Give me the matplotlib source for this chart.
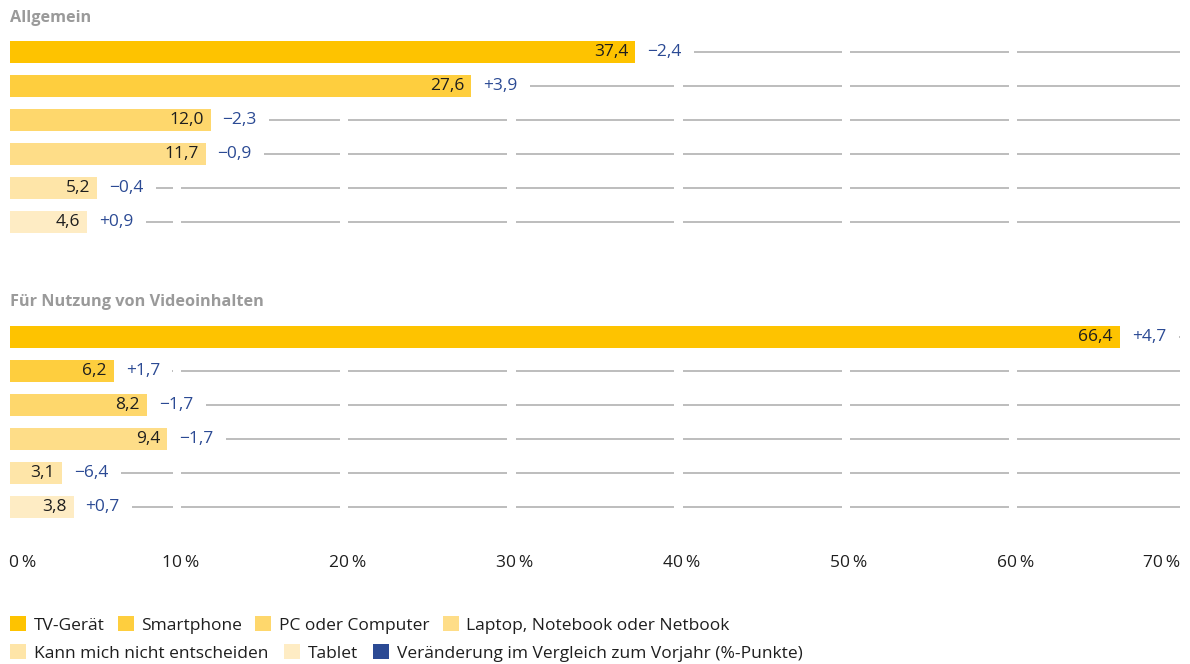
import matplotlib
matplotlib.use("Agg")
import matplotlib.pyplot as plt
from matplotlib.patches import Patch

plt.rcParams['font.family'] = ['Open Sans', 'Noto Sans', 'DejaVu Sans']

# ---------------- data ----------------
categories = ["TV-Gerät", "Smartphone", "PC oder Computer",
              "Laptop, Notebook oder Netbook", "Kann mich nicht entscheiden", "Tablet"]
colors = ["#FEC300", "#FECE3E", "#FED76C", "#FEDD88", "#FEE5A8", "#FEECC4"]
change_label = "Veränderung im Vergleich zum Vorjahr (%-Punkte)"
change_color = "#2B4A94"

section_titles = ["Allgemein", "Für Nutzung von Videoinhalten"]
values_allgemein = [37.4, 27.6, 12.0, 11.7, 5.2, 4.6]
changes_allgemein = [-2.4, 3.9, -2.3, -0.9, -0.4, 0.9]
values_video = [66.4, 6.2, 8.2, 9.4, 3.1, 3.8]
changes_video = [4.7, 1.7, -1.7, -1.7, -6.4, 0.7]

xticks = [0, 10, 20, 30, 40, 50, 60, 70]
xticklabels = ["0\u2009%", "10\u2009%", "20\u2009%", "30\u2009%", "40\u2009%", "50\u2009%", "60\u2009%", "70\u2009%"]

# ---------------- layout ----------------
W, H = 1190, 664
fig = plt.figure(figsize=(W / 100, H / 100), dpi=100)

FS = 12.5
grid_color = "#BDBDBD"
title_color = "#9A9A9A"
text_color = "#1E1E1E"


def fmt(v):
    return f"{v:.1f}".replace(".", ",")


def fmt_change(v):
    s = f"{abs(v):.1f}".replace(".", ",")
    return ("+" if v >= 0 else "\u2212") + s


def px_axes(top, bottom, left=10, right=1180):
    return fig.add_axes([left / W, 1 - bottom / H, (right - left) / W, (bottom - top) / H])


def draw_section(ax, values, changes):
    n = len(values)
    ys = list(range(n))
    ax.set_xlim(0, 70)
    ax.set_ylim(n - 0.5, -0.5)
    ax.axis("off")
    gap = 0.25
    for y in ys:
        for k in range(7):
            x0 = k * 10 + (gap if k > 0 else 0)
            x1 = (k + 1) * 10 - (gap if k < 6 else 0)
            ax.hlines(y, x0, x1, color=grid_color, lw=1.4, zorder=1)
    ax.barh(ys, values, height=0.66, color=colors, zorder=4)
    for y, v, c in zip(ys, values, changes):
        ax.annotate(fmt(v), (v, y), xytext=(-7, 0), textcoords="offset pixels",
                    ha="right", va="center", fontsize=FS, color=text_color, zorder=6)
        ax.annotate(fmt_change(c), (v, y), xytext=(12, 0), textcoords="offset pixels",
                    ha="left", va="center", fontsize=FS, color=change_color, zorder=3,
                    bbox=dict(boxstyle="square,pad=0.72", fc="white", ec="none"))
    return ax


ax1 = px_axes(35, 239)
draw_section(ax1, values_allgemein, changes_allgemein)
ax2 = px_axes(320, 524)
draw_section(ax2, values_video, changes_video)

fig.text(10 / W, 1 - 18 / H, section_titles[0], fontsize=FS - 0.8, fontweight="bold",
         color=title_color, ha="left", va="center")
fig.text(10 / W, 1 - 302 / H, section_titles[1], fontsize=FS - 0.8, fontweight="bold",
         color=title_color, ha="left", va="center")

# x tick labels
for t, lab in zip(xticks, xticklabels):
    if t == xticks[0]:
        ha, dx = "left", -1
    elif t == xticks[-1]:
        ha, dx = "right", 0
    else:
        ha, dx = "center", 3
    ax2.annotate(lab, (t, 0), xycoords=("data", "axes fraction"),
                 xytext=(dx, -(563 - 524)), textcoords="offset pixels",
                 ha=ha, va="center", fontsize=FS, color=text_color, annotation_clip=False)

# legend (two rows)
handles_all = [Patch(facecolor=c, edgecolor="none") for c in colors] + \
              [Patch(facecolor=change_color, edgecolor="none")]
labels_all = categories + [change_label]

leg_kw = dict(frameon=False, fontsize=FS, handlelength=0.92, handleheight=0.92,
              handletextpad=0.45, borderpad=0, borderaxespad=0,
              loc="center left", labelcolor=text_color)
leg1 = fig.legend(handles_all[:4], labels_all[:4], ncol=4, columnspacing=0.75,
                  bbox_to_anchor=(10 / W, 1 - 625 / H), **leg_kw)
leg2 = fig.legend(handles_all[4:], labels_all[4:], ncol=3, columnspacing=0.9,
                  bbox_to_anchor=(10 / W, 1 - 653 / H), **leg_kw)

fig.savefig("out.png", dpi=100, facecolor="white")
